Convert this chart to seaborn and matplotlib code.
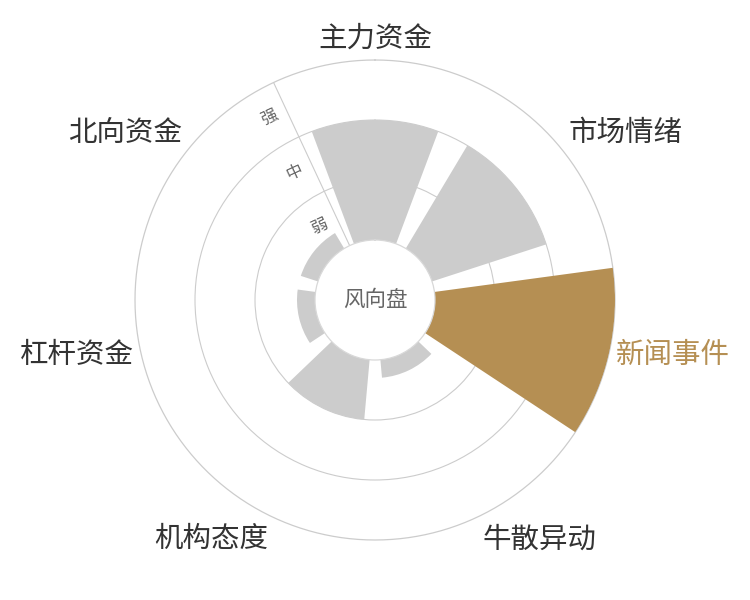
import numpy as np
import pandas as pd
import seaborn as sns
import matplotlib.pyplot as plt

categories = ["主力资金", "市场情绪", "新闻事件", "牛散异动", "机构态度", "杠杆资金", "北向资金"]
values = [2.0, 2.0, 3.0, 0.3, 1.0, 0.3, 0.3]
highlight = "新闻事件"
level_labels = ["弱", "中", "强"]
center_label = "风向盘"

GOLD = "#b58f53"
GRAY = "#cccccc"
LINE = "#cccccc"
TEXT = "#333333"

sns.set_style("white")
plt.rcParams["font.family"] = ["Noto Sans CJK SC", "DejaVu Sans"]

step = 2 * np.pi / len(categories)
df = pd.DataFrame({
    "cat": categories,
    "theta": np.arange(len(categories)) * step,
    "value": values,
})
palette = {c: (GOLD if c == highlight else GRAY) for c in categories}

fig = plt.figure(figsize=(7.5, 6), dpi=100)
ax = fig.add_axes([0.18, 0.1, 0.64, 0.8], projection="polar")
ax.set_theta_zero_location("N")
ax.set_theta_direction(-1)

sns.barplot(data=df, x="theta", y="value", hue="cat", palette=palette,
            native_scale=True, width=0.8, errorbar=None, legend=False,
            linewidth=0, saturation=1, ax=ax)

ax.set_ylim(0, 3)
ax.set_rorigin(-1)
ax.set_xlabel("")
ax.set_ylabel("")
ax.set_xticks([])
ax.set_yticks([1, 2])
ax.set_yticklabels([])
ax.tick_params(length=0)
ax.grid(True, axis="y", color=LINE, linewidth=0.8)
ax.grid(False, axis="x")
ax.set_axisbelow(True)
for name in ("start", "end", "polar"):
    if name in ax.spines:
        ax.spines[name].set_visible(False)
if "inner" in ax.spines:
    ax.spines["inner"].set_color("#d8d8d8")
    ax.spines["inner"].set_linewidth(0.9)

# outer ring
ring = np.linspace(0, 2 * np.pi, 721)
ax.plot(ring, np.full_like(ring, 3.0), color=LINE, linewidth=0.9,
        clip_on=False, zorder=0.6)

# radius axis line with level labels
axis_ang = np.deg2rad(-25)
ax.plot([axis_ang, axis_ang], [0, 3], color=LINE, linewidth=0.8, zorder=0.5)
nx, ny = -np.cos(np.deg2rad(25)), -np.sin(np.deg2rad(25))
for i, lab in enumerate(level_labels):
    ax.annotate(lab, xy=(axis_ang, i + 0.5), xytext=(19 * nx, 19 * ny),
                textcoords="offset pixels", ha="center", va="center",
                rotation=25, fontsize=12, color="#666666")

# category labels around the outside
for i, cat in enumerate(categories):
    th = i * step
    s, c = np.sin(th), np.cos(th)
    ha = "left" if s > 0.1 else ("right" if s < -0.1 else "center")
    va = "center" if abs(c) < 0.5 else ("bottom" if c > 0 else "top")
    dy = 9 * c - (3 if c > 0.1 else 0)
    ax.annotate(cat, xy=(th, 3), xytext=(7 * s, dy),
                textcoords="offset pixels", ha=ha, va=va,
                fontsize=20.5, color=(GOLD if cat == highlight else TEXT),
                annotation_clip=False)

ax.text(0, -1, center_label, ha="center", va="center",
        fontsize=15.5, color="#666666")

fig.savefig("out.png", dpi=100)
